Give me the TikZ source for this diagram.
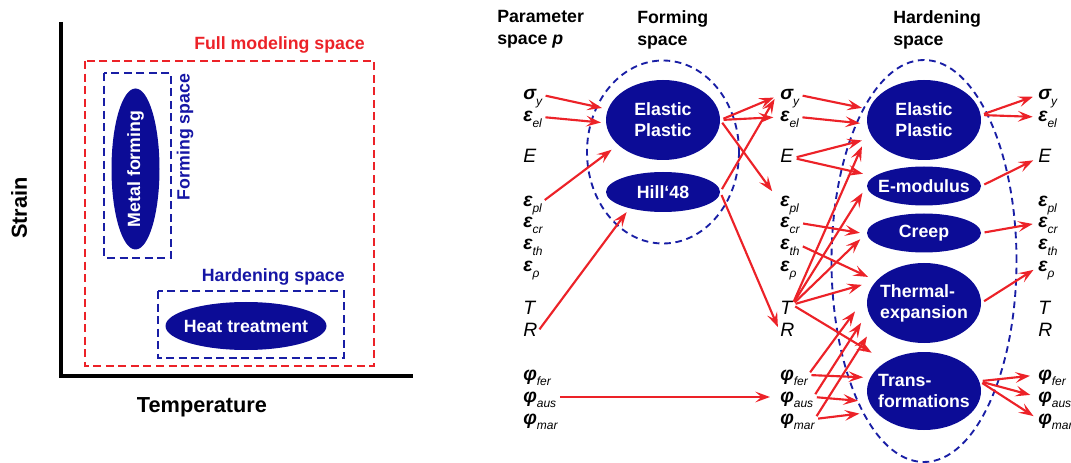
\documentclass[tikz,border=0pt]{standalone}
\usepackage{fontspec}
\setmainfont{Liberation Sans}
\usetikzlibrary{arrows.meta,shapes.geometric}
\definecolor{myred}{RGB}{236,34,40}
\definecolor{fillblue}{RGB}{12,12,150}
\definecolor{dashblue}{RGB}{25,30,165}
\definecolor{txtblue}{RGB}{22,22,165}
\newcommand\gs[2]{{\bfseries\itshape #1}\raisebox{-3.9pt}{\fontsize{9}{9}\selectfont\itshape #2}}
\newcommand\ls[1]{{\itshape #1}}
\newcommand\labcolumn[2]{%
 \node[lab] (#1sy) at (#2,100) {\gs{σ}{y}};
 \node[lab] (#1el) at (#2,122) {\gs{ε}{el}};
 \node[lab] (#1E) at (#2,163) {\ls{E}};
 \node[lab] (#1pl) at (#2,207) {\gs{ε}{pl}};
 \node[lab] (#1cr) at (#2,228) {\gs{ε}{cr}};
 \node[lab] (#1th) at (#2,250) {\gs{ε}{th}};
 \node[lab] (#1rho) at (#2,272) {\gs{ε}{ρ}};
 \node[lab] (#1T) at (#2,315) {\ls{T}};
 \node[lab] (#1R) at (#2,337) {\ls{R}};
 \node[lab] (#1fer) at (#2,380) {\gs{φ}{fer}};
 \node[lab] (#1aus) at (#2,402) {\gs{φ}{aus}};
 \node[lab] (#1mar) at (#2,424) {\gs{φ}{mar}};
}
\begin{document}
\begin{tikzpicture}[x=0.75pt,y=-0.75pt,
 lab/.style={anchor=base west,inner sep=0pt,text height=7.5pt,text depth=0pt,font=\fontsize{14.5}{15}\selectfont},
 blob/.style={ellipse,fill=fillblue,inner sep=0pt},
 blobtext/.style={text=white,inner sep=0pt,font=\fontsize{13.3}{15.8}\selectfont\bfseries},
 bigdash/.style={ellipse,draw=dashblue,line width=1.4pt,dash pattern=on 5pt off 3.5pt,inner sep=0pt},
 rectdash/.style={line width=1.4pt,dash pattern=on 6pt off 3.4pt},
 arr/.style={draw=myred,line width=1.6pt,-{Stealth[length=11pt,width=8pt,inset=4.5pt,open]},shorten <=2.5pt},
 head/.style={anchor=north west,inner sep=0pt,align=left,font=\fontsize{13.3}{16.5}\selectfont\bfseries},
 axislab/.style={inner sep=0pt,font=\fontsize{16.3}{18}\selectfont\bfseries},
]
\useasboundingbox (0,0) rectangle (1071,463);

% ---------- left panel ----------
\draw[line width=3pt] (61,22) -- (61,376) -- (413,376);
\node[axislab,rotate=90] (strain) at (19,208) {Strain};
\node[axislab] (temp) at (202,407) {Temperature};
\draw[myred,rectdash] (85,61) rectangle (374,366);
\node[inner sep=0pt,anchor=east,text=myred,font=\fontsize{13.3}{15}\selectfont\bfseries] (full) at (365,45) {Full modeling space};
\draw[dashblue,rectdash] (104,73) rectangle (171,258);
\draw[dashblue,rectdash] (158,291) rectangle (344,358);
\node[blob,minimum width=36pt,minimum height=120.75pt] (mf) at (135.5,169) {};
\node[blobtext,rotate=90] (mft) at (mf) {Metal forming};
\node[blob,minimum width=120.75pt,minimum height=36pt] (ht) at (246,326) {};
\node[blobtext] (htt) at (ht) {Heat treatment};
\node[inner sep=0pt,rotate=90,text=txtblue,font=\fontsize{13.3}{15}\selectfont\bfseries] (fspace) at (185,137) {Forming space};
\node[inner sep=0pt,anchor=east,text=txtblue,font=\fontsize{13.3}{15}\selectfont\bfseries] (hspace) at (345,277) {Hardening space};

% ---------- right panel: headers ----------
\node[head] (h1) at (497,10) {Parameter\\space \textit{p}};
\node[head] (h2) at (637,10) {Forming\\space};
\node[head] (h3) at (893,10) {Hardening\\space};

% labels
\labcolumn{l}{523}
\labcolumn{m}{780}
\labcolumn{r}{1038}

% dashed spaces
\node[bigdash,minimum width=114pt,minimum height=137.25pt] (fsp) at (663,152) {};
\node[bigdash,minimum width=138.75pt,minimum height=301.5pt] (hsp) at (924,261) {};

% forming ellipses
\node[blob,minimum width=85.5pt,minimum height=60pt] (fEP) at (663,120) {};
\node[blobtext,align=center] (fEPt) at (fEP) {Elastic\\Plastic};
\node[blob,minimum width=85.5pt,minimum height=30pt] (fH) at (663,192) {};
\node[blobtext] (fHt) at (fH) {Hill‘48};

% hardening ellipses
\node[blob,minimum width=85.5pt,minimum height=60pt] (hEP) at (924,120) {};
\node[blobtext,align=center] (hEPt) at (hEP) {Elastic\\Plastic};
\node[blob,minimum width=85.5pt,minimum height=29.25pt] (hEM) at (924,186) {};
\node[blobtext] (hEMt) at (hEM) {E-modulus};
\node[blob,minimum width=85.5pt,minimum height=29.25pt] (hCr) at (924,233) {};
\node[blobtext] (hCrt) at (hCr) {Creep};
\node[blob,minimum width=85.5pt,minimum height=60pt] (hTh) at (924,303) {};
\node[blobtext,align=left] (hTht) at (hTh) {Thermal-\\expansion};
\node[blob,minimum width=85.5pt,minimum height=58.5pt] (hTr) at (924,391) {};
\node[blobtext,align=left] (hTrt) at (hTr) {Trans-\\formations};

% ---------- arrows: parameter -> forming ----------
\draw[arr,shorten >=4.5pt] (lsy.east) -- (fEP.169);
\draw[arr,shorten >=3.75pt] (lel.east) -- (fEP.183);
\draw[arr,shorten >=6pt] (lpl.east) -- (fEP.209);
\draw[arr,shorten >=3.5pt] (lR.east) -- (fH.206);
\draw[arr,shorten >=7.5pt] (laus.east) -- (maus.west);

% forming -> parameter
\draw[arr,shorten >=5pt] (fEP.east) -- (msy.west);
\draw[arr,shorten >=5pt] (fEP.east) -- (mel.west);
\draw[arr,shorten >=10pt] (fEP.east) -- (mpl.west);
\draw[arr,shorten >=8pt] (fH.east) -- (msy.north west);
\draw[arr,shorten >=4pt] (fH.east) -- (mR.west);

% ---------- arrows: parameter -> hardening ----------
\draw[arr,shorten >=5.25pt] (msy.east) -- (hEP.169);
\draw[arr,shorten >=5.25pt] (mel.east) -- (hEP.184);
\draw[arr,shorten >=8.25pt] (mE.east) -- (hEP.199);
\draw[arr,shorten >=8.6pt] (mE.east) -- (hEM.169);
\draw[arr,shorten >=5.25pt] (mcr.east) -- (hCr.181);
\draw[arr,shorten >=6.75pt] (mth.east) -- (hTh.155);
\draw[arr,shorten >=12.75pt] (mT.north east) -- (hEP.191);
\draw[arr,shorten >=6pt] (mT.north east) -- (hEM.west);
\draw[arr,shorten >=6.75pt] (mT.north east) -- (hCr.west);
\draw[arr,shorten >=11.25pt] (mT.north east) -- (hTh.155);
\draw[arr,shorten >=12.75pt] (mT.north east) -- (hTr.142);
\draw[arr,shorten >=17pt] (mfer.east) -- (hTh.170);
\draw[arr,shorten >=9.75pt] (maus.east) -- (hTh.189);
\draw[arr,shorten >=11.25pt] (mmar.east) -- (hTh.203);
\draw[arr,shorten >=5.25pt] (mfer.east) -- (hTr.166);
\draw[arr,shorten >=8.25pt] (maus.east) -- (hTr.191);
\draw[arr,shorten >=12pt] (mmar.east) -- (hTr.203);

% hardening -> parameter
\draw[arr,shorten >=4pt] (hEP.5) -- (rsy.west);
\draw[arr,shorten >=4pt] (hEP.5) -- (rel.west);
\draw[arr,shorten >=4pt] (hEM.east) -- (rE.west);
\draw[arr,shorten >=4pt] (hCr.east) -- (rcr.west);
\draw[arr,shorten >=4pt] (hTh.east) -- (rrho.west);
\draw[arr,shorten >=6pt] (hTr.10) -- (rfer.west);
\draw[arr,shorten >=6pt] (hTr.10) -- (raus.west);
\draw[arr,shorten >=4pt] (hTr.10) -- (rmar.west);
\end{tikzpicture}
\end{document}
